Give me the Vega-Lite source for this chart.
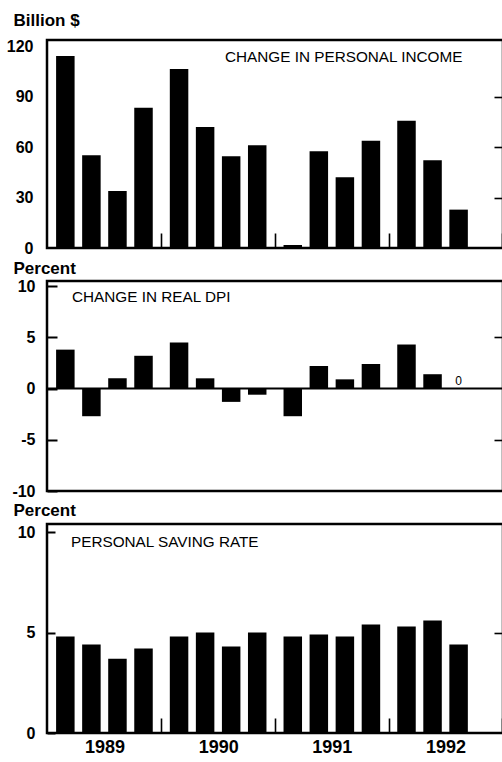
{
  "$schema": "https://vega.github.io/schema/vega-lite/v6.json",
  "background": "white",
  "padding": {"left": 5, "top": 9, "right": 0, "bottom": 0},
  "bounds": "flush",
  "spacing": 33,
  "config": {
    "view": {"stroke": "black", "strokeWidth": 2.5},
    "font": "Liberation Sans",
    "axis": {"labelFont": "Liberation Sans", "titleFont": "Liberation Sans", "labelColor": "black", "titleColor": "black", "tickColor": "black", "domainColor": "black", "grid": false, "tickWidth": 1.6},
    "title": {"font": "Liberation Sans", "color": "black"}
  },
  "datasets": {
    "income": [
      {"year": "1989", "quarter": "Q1", "value": 114.1},
      {"year": "1989", "quarter": "Q2", "value": 55.1},
      {"year": "1989", "quarter": "Q3", "value": 33.9},
      {"year": "1989", "quarter": "Q4", "value": 83.4},
      {"year": "1990", "quarter": "Q1", "value": 106.4},
      {"year": "1990", "quarter": "Q2", "value": 71.9},
      {"year": "1990", "quarter": "Q3", "value": 54.5},
      {"year": "1990", "quarter": "Q4", "value": 61.0},
      {"year": "1991", "quarter": "Q1", "value": 1.8},
      {"year": "1991", "quarter": "Q2", "value": 57.5},
      {"year": "1991", "quarter": "Q3", "value": 42.0},
      {"year": "1991", "quarter": "Q4", "value": 63.8},
      {"year": "1992", "quarter": "Q1", "value": 75.6},
      {"year": "1992", "quarter": "Q2", "value": 52.1},
      {"year": "1992", "quarter": "Q3", "value": 22.8}
    ],
    "dpi": [
      {"year": "1989", "quarter": "Q1", "value": 3.8},
      {"year": "1989", "quarter": "Q2", "value": -2.7},
      {"year": "1989", "quarter": "Q3", "value": 1.0},
      {"year": "1989", "quarter": "Q4", "value": 3.2},
      {"year": "1990", "quarter": "Q1", "value": 4.5},
      {"year": "1990", "quarter": "Q2", "value": 1.0},
      {"year": "1990", "quarter": "Q3", "value": -1.3},
      {"year": "1990", "quarter": "Q4", "value": -0.6},
      {"year": "1991", "quarter": "Q1", "value": -2.7},
      {"year": "1991", "quarter": "Q2", "value": 2.2},
      {"year": "1991", "quarter": "Q3", "value": 0.9},
      {"year": "1991", "quarter": "Q4", "value": 2.4},
      {"year": "1992", "quarter": "Q1", "value": 4.3},
      {"year": "1992", "quarter": "Q2", "value": 1.4},
      {"year": "1992", "quarter": "Q3", "value": 0}
    ],
    "saving": [
      {"year": "1989", "quarter": "Q1", "value": 4.8},
      {"year": "1989", "quarter": "Q2", "value": 4.4},
      {"year": "1989", "quarter": "Q3", "value": 3.7},
      {"year": "1989", "quarter": "Q4", "value": 4.2},
      {"year": "1990", "quarter": "Q1", "value": 4.8},
      {"year": "1990", "quarter": "Q2", "value": 5.0},
      {"year": "1990", "quarter": "Q3", "value": 4.3},
      {"year": "1990", "quarter": "Q4", "value": 5.0},
      {"year": "1991", "quarter": "Q1", "value": 4.8},
      {"year": "1991", "quarter": "Q2", "value": 4.9},
      {"year": "1991", "quarter": "Q3", "value": 4.8},
      {"year": "1991", "quarter": "Q4", "value": 5.4},
      {"year": "1992", "quarter": "Q1", "value": 5.3},
      {"year": "1992", "quarter": "Q2", "value": 5.6},
      {"year": "1992", "quarter": "Q3", "value": 4.4}
    ]
  },
  "vconcat": [
    {
      "width": 456,
      "height": 208,
      "title": {"text": "CHANGE IN PERSONAL INCOME", "anchor": "start", "frame": "group", "dx": 178, "offset": -66, "baseline": "alphabetic", "fontSize": 15.3, "fontWeight": "normal"},
      "layer": [
        {
          "data": {"name": "income"},
          "mark": {"type": "bar", "color": "black"},
          "encoding": {
            "x": {"field": "year", "type": "nominal", "scale": {"paddingInner": 0.15, "paddingOuter": 0.08},
              "axis": {"orient": "bottom", "title": null, "domain": false, "labels": false, "ticks": true, "tickSize": 15, "offset": -15, "bandPosition": 1, "tickOffset": 8.5, "tickExtra": false}},
            "xOffset": {"field": "quarter", "type": "nominal", "scale": {"paddingInner": 0.29, "paddingOuter": 0}},
            "y": {"field": "value", "type": "quantitative", "scale": {"domain": [0, 123.6], "nice": false},
              "axis": {"orient": "left", "values": [0, 30, 60, 90, 120], "ticks": false, "domain": false, "labelPadding": 14, "labelFontSize": 16, "labelFontWeight": "bold", "labelExpr": "'' + datum.value", "title": "Billion $", "titleAngle": 0, "titleAlign": "left", "titleBaseline": "alphabetic", "titleX": -34, "titleY": -15, "titleFontSize": 17, "titleFontWeight": "bold"}}
          }
        },
        {
          "data": {"values": [{}]},
          "mark": {"type": "rule", "color": "black", "strokeWidth": 1},
          "encoding": {
            "y": {"datum": 0, "type": "quantitative", "scale": {"domain": [0, 123.6], "nice": false},
              "axis": {"orient": "right", "values": [30, 60, 90], "labels": false, "domain": false, "ticks": true, "tickSize": 9, "offset": -9, "title": null}}
          }
        }
      ],
      "resolve": {"axis": {"y": "independent"}}
    },
    {
      "width": 456,
      "height": 210,
      "title": {"text": "CHANGE IN REAL DPI", "anchor": "start", "frame": "group", "dx": 25, "offset": -58, "baseline": "alphabetic", "fontSize": 15.3, "fontWeight": "normal"},
      "layer": [
        {
          "data": {"name": "dpi"},
          "mark": {"type": "bar", "color": "black"},
          "encoding": {
            "x": {"field": "year", "type": "nominal", "scale": {"paddingInner": 0.15, "paddingOuter": 0.08},
              "axis": {"orient": "bottom", "title": null, "domain": false, "labels": false, "ticks": true, "tickSize": 15, "offset": -107.4, "bandPosition": 1, "tickOffset": 8.5, "tickExtra": false}},
            "xOffset": {"field": "quarter", "type": "nominal", "scale": {"paddingInner": 0.29, "paddingOuter": 0}},
            "y": {"field": "value", "type": "quantitative", "scale": {"domain": [-10, 10.5], "nice": false},
              "axis": {"orient": "left", "values": [-10, -5, 0, 5, 10], "ticks": true, "tickSize": 10, "offset": -10, "tickWidth": 2, "domain": false, "labelPadding": 12, "labelFontSize": 16, "labelFontWeight": "bold", "labelExpr": "'' + datum.value", "title": "Percent", "titleAngle": 0, "titleAlign": "left", "titleBaseline": "alphabetic", "titleX": -44, "titleY": -8, "titleFontSize": 17, "titleFontWeight": "bold"}}
          }
        },
        {
          "data": {"values": [{}]},
          "mark": {"type": "rule", "color": "black", "strokeWidth": 2},
          "encoding": {
            "y": {"datum": 0, "type": "quantitative", "scale": {"domain": [-10, 10.5], "nice": false},
              "axis": {"orient": "right", "values": [-5, 5], "labels": false, "domain": false, "ticks": true, "tickSize": 9, "offset": -9, "title": null}}
          }
        },
        {
          "data": {"name": "dpi"},
          "transform": [{"filter": "datum.value === 0"}],
          "mark": {"type": "text", "fontSize": 12, "baseline": "alphabetic", "dy": -4, "font": "Liberation Sans", "color": "black"},
          "encoding": {
            "x": {"field": "year", "type": "nominal", "axis": null},
            "xOffset": {"field": "quarter", "type": "nominal"},
            "y": {"field": "value", "type": "quantitative", "axis": null},
            "text": {"field": "value", "type": "quantitative"}
          }
        }
      ],
      "resolve": {"axis": {"y": "independent"}}
    },
    {
      "width": 456,
      "height": 209,
      "title": {"text": "PERSONAL SAVING RATE", "anchor": "start", "frame": "group", "dx": 24, "offset": -61.5, "baseline": "alphabetic", "fontSize": 15.3, "fontWeight": "normal"},
      "layer": [
        {
          "data": {"name": "saving"},
          "mark": {"type": "bar", "color": "black"},
          "encoding": {
            "x": {"field": "year", "type": "nominal", "scale": {"paddingInner": 0.15, "paddingOuter": 0.08},
              "axis": {"orient": "bottom", "title": null, "domain": false, "labels": true, "labelAngle": 0, "labelFontSize": 18, "labelFontWeight": "bold", "labelPadding": 5, "labelOffset": -8.5, "ticks": true, "tickSize": 15, "offset": -15, "bandPosition": 1, "tickOffset": 8.5, "tickExtra": false}},
            "xOffset": {"field": "quarter", "type": "nominal", "scale": {"paddingInner": 0.29, "paddingOuter": 0}},
            "y": {"field": "value", "type": "quantitative", "scale": {"domain": [0, 10.4], "nice": false},
              "axis": {"orient": "left", "values": [0, 5, 10], "ticks": true, "tickSize": 8, "offset": -8, "tickWidth": 2, "domain": false, "labelPadding": 12, "labelFontSize": 16, "labelFontWeight": "bold", "labelExpr": "'' + datum.value", "title": "Percent", "titleAngle": 0, "titleAlign": "left", "titleBaseline": "alphabetic", "titleX": -42, "titleY": -9, "titleFontSize": 17, "titleFontWeight": "bold"}}
          }
        },
        {
          "data": {"values": [{}]},
          "mark": {"type": "rule", "color": "black", "strokeWidth": 1},
          "encoding": {
            "y": {"datum": 0, "type": "quantitative", "scale": {"domain": [0, 10.4], "nice": false},
              "axis": {"orient": "right", "values": [5], "labels": false, "domain": false, "ticks": true, "tickSize": 9, "offset": -9, "title": null}}
          }
        }
      ],
      "resolve": {"axis": {"y": "independent"}}
    }
  ]
}
